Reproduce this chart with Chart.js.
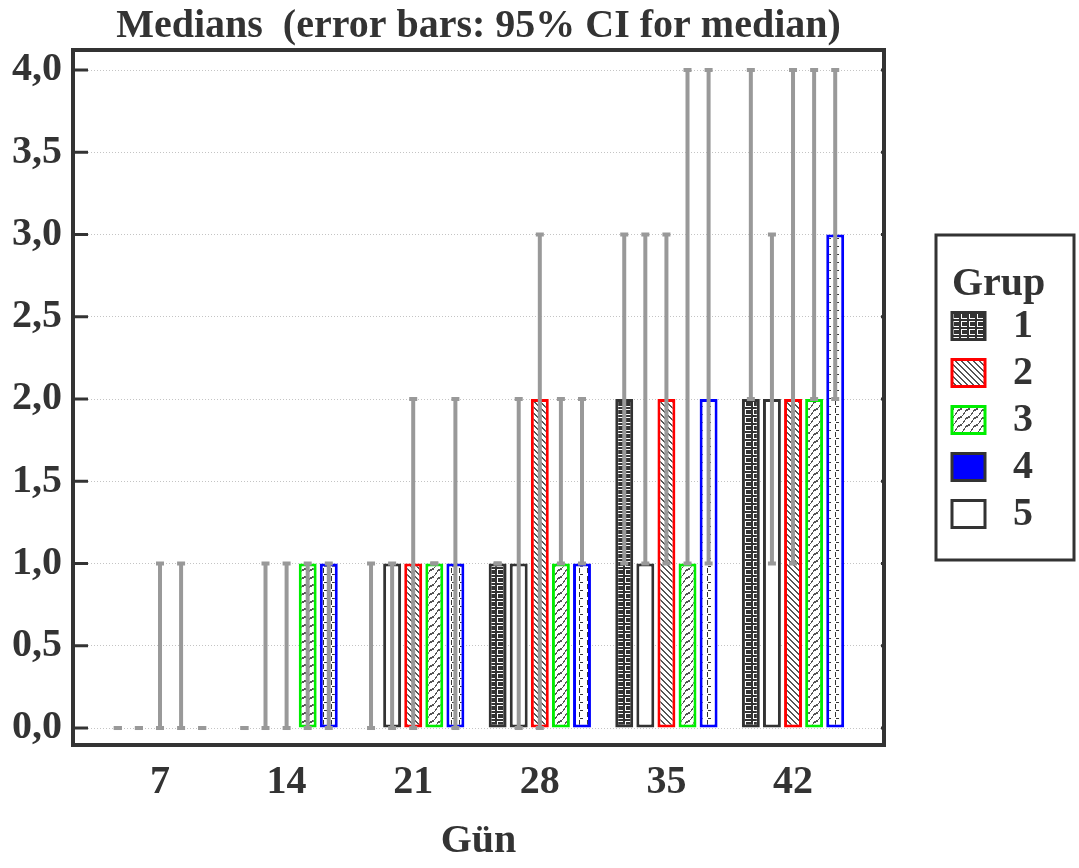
<!DOCTYPE html>
<html>
<head>
<meta charset="utf-8">
<script src="https://cdn.jsdelivr.net/npm/chart.js@4/dist/chart.umd.min.js"></script>
<style>
  html, body { margin: 0; padding: 0; background: #fff; }
  #c { display: block; }
</style>
</head>
<body>
<canvas id="c" width="1079" height="868"></canvas>
<script>
// ---------------- DATA ----------------
const days = [7, 14, 21, 28, 35, 42];
const yTicks = [0, 0.5, 1, 1.5, 2, 2.5, 3, 3.5, 4];
const groupNames = ['1', '2', '3', '4', '5'];
const plotOrder = ['1', '5', '2', '3', '4'];

const median1 = [0, 0, 0, 1, 2, 2];
const ciLow1  = [0, 0, 0, 1, 1, 2];
const ciHigh1 = [0, 0, 1, 1, 3, 4];

const median2 = [0, 0, 1, 2, 2, 2];
const ciLow2  = [0, 0, 0, 0, 1, 1];
const ciHigh2 = [1, 1, 2, 3, 3, 4];

const median3 = [0, 1, 1, 1, 1, 2];
const ciLow3  = [0, 0, 1, 1, 1, 2];
const ciHigh3 = [1, 1, 1, 2, 4, 4];

const median4 = [0, 1, 1, 1, 2, 3];
const ciLow4  = [0, 0, 0, 1, 1, 2];
const ciHigh4 = [0, 1, 2, 2, 4, 4];

const median5 = [0, 0, 1, 1, 1, 2];
const ciLow5  = [0, 0, 0, 0, 1, 1];
const ciHigh5 = [0, 1, 1, 2, 3, 3];

// ---------------- PATTERNS ----------------
function tile(w, h, draw) {
  const c = document.createElement('canvas');
  c.width = w; c.height = h;
  const g = c.getContext('2d');
  draw(g);
  return c.getContext('2d').createPattern(c, 'repeat');
}
const pat1 = tile(8, 8, g => {
  g.fillStyle = '#333'; g.fillRect(0, 0, 8, 8);
  g.fillStyle = '#fff';
  g.fillRect(1, 1, 6, 1); g.fillRect(1, 1, 1, 6); g.fillRect(1, 6, 6, 1);
});
const pat2 = tile(6, 6, g => {
  g.fillStyle = '#fff'; g.fillRect(0, 0, 6, 6);
  g.fillStyle = '#555';
  for (let i = 0; i < 6; i++) { g.fillRect(i, i, 1, 1); g.fillRect((i + 1) % 6, i, 1, 1); }
});
const pat3 = tile(8, 8, g => {
  g.fillStyle = '#fff'; g.fillRect(0, 0, 8, 8);
  g.fillStyle = '#555';
  const off = [0, 1, 1, 0, 0, -1, -1, 0];
  for (let x = 0; x < 8; x++) {
    const y = ((8 - x + off[x]) % 8 + 8) % 8;
    g.fillRect(x, y, 1, 2);
  }
});
const pat4 = tile(8, 8, g => {
  g.fillStyle = '#fff'; g.fillRect(0, 0, 8, 8);
  g.fillStyle = '#333';
  g.fillRect(3, 0, 1, 5); g.fillRect(4, 6, 3, 1);
});

const styles = {
  '1': { fill: pat1, border: '#333333', legendFill: pat1, legendBorder: '#333333' },
  '2': { fill: pat2, border: '#ff0000', legendFill: pat2, legendBorder: '#ff0000' },
  '3': { fill: pat3, border: '#00ee00', legendFill: pat3, legendBorder: '#00ee00' },
  '4': { fill: pat4, border: '#0000ff', legendFill: '#0000ff', legendBorder: '#333333' },
  '5': { fill: '#ffffff', border: '#333333', legendFill: '#ffffff', legendBorder: '#333333' }
};
const series = {
  '1': [median1, ciLow1, ciHigh1],
  '2': [median2, ciLow2, ciHigh2],
  '3': [median3, ciLow3, ciHigh3],
  '4': [median4, ciLow4, ciHigh4],
  '5': [median5, ciLow5, ciHigh5]
};

const FONT = "'Liberation Serif', 'Times New Roman', serif";
const TXT = '#333333';

const datasets = plotOrder.map(name => ({
  label: name,
  data: series[name][0],
  errLow: series[name][1],
  errHigh: series[name][2],
  backgroundColor: styles[name].fill,
  borderColor: styles[name].border,
  borderWidth: 3,
  borderSkipped: false
}));

// ---------------- PLUGINS ----------------
const bgPlugin = {
  id: 'bg',
  beforeDraw(chart) {
    const ctx = chart.ctx;
    ctx.save(); ctx.fillStyle = '#fff';
    ctx.fillRect(0, 0, chart.width, chart.height); ctx.restore();
  }
};

const errorBars = {
  id: 'errorBars',
  afterDatasetsDraw(chart) {
    const ctx = chart.ctx, ys = chart.scales.y;
    ctx.save();
    chart.data.datasets.forEach((ds, i) => {
      const meta = chart.getDatasetMeta(i);
      meta.data.forEach((el, j) => {
        const x = el.x;
        const yl = ys.getPixelForValue(ds.errLow[j]);
        const yh = ys.getPixelForValue(ds.errHigh[j]);
        ctx.strokeStyle = '#999999'; ctx.fillStyle = '#999999';
        if (ds.errHigh[j] > ds.errLow[j]) {
          ctx.lineWidth = 4;
          ctx.beginPath(); ctx.moveTo(x, yl); ctx.lineTo(x, yh); ctx.stroke();
        }
        ctx.fillRect(x - 4, yl - 2, 8, 4);
        ctx.fillRect(x - 4, yh - 2, 8, 4);
      });
    });
    ctx.restore();
  }
};

const framePlugin = {
  id: 'frame',
  afterDraw(chart) {
    const ctx = chart.ctx, a = chart.chartArea, ys = chart.scales.y;
    ctx.save();
    ctx.strokeStyle = '#333'; ctx.lineWidth = 3;
    ys.ticks.forEach(t => {
      const y = ys.getPixelForValue(t.value);
      ctx.beginPath(); ctx.moveTo(a.left, y); ctx.lineTo(a.left + 15, y); ctx.stroke();
      ctx.beginPath(); ctx.moveTo(a.right - 3, y); ctx.lineTo(a.right, y); ctx.stroke();
    });
    ctx.lineWidth = 4;
    ctx.strokeRect(a.left, a.top, a.right - a.left, a.bottom - a.top);
    ctx.restore();
  }
};

const legendPlugin = {
  id: 'grupLegend',
  afterDraw(chart) {
    const ctx = chart.ctx, a = chart.chartArea;
    const fx = a.right + 52, fy = 235, fw = 138, fh = 325;
    ctx.save();
    ctx.strokeStyle = '#333'; ctx.lineWidth = 3;
    ctx.strokeRect(fx, fy, fw, fh);
    ctx.fillStyle = TXT;
    ctx.font = 'bold 40px ' + FONT;
    ctx.textBaseline = 'alphabetic'; ctx.textAlign = 'left';
    ctx.fillText('Grup', fx + 16, 295);
    groupNames.forEach((name, k) => {
      const st = styles[name];
      const cy = 326 + k * 47;
      const sx = fx + 16, sw = 33, sh = 27;
      ctx.fillStyle = st.legendFill;
      ctx.fillRect(sx, cy - sh / 2, sw, sh);
      ctx.strokeStyle = st.legendBorder; ctx.lineWidth = 3;
      ctx.strokeRect(sx, cy - sh / 2, sw, sh);
      ctx.fillStyle = TXT;
      ctx.textBaseline = 'middle';
      ctx.fillText(name, fx + 77, cy + 1);
    });
    ctx.restore();
  }
};

// ---------------- CHART ----------------
new Chart(document.getElementById('c'), {
  type: 'bar',
  data: { labels: days, datasets },
  plugins: [bgPlugin, errorBars, framePlugin, legendPlugin],
  options: {
    responsive: false,
    animation: false,
    devicePixelRatio: 1,
    layout: { padding: { left: 0, right: 195, top: 0, bottom: 0 } },
    datasets: { bar: { categoryPercentage: 0.833, barPercentage: 0.85 } },
    plugins: {
      legend: { display: false },
      tooltip: { enabled: false },
      title: {
        display: true,
        text: 'Medians  (error bars: 95% CI for median)',
        fullSize: false,
        color: TXT,
        font: { family: FONT, size: 40, weight: 'bold', lineHeight: 1 },
        padding: { top: 7, bottom: 3 }
      }
    },
    scales: {
      x: {
        type: 'linear',
        min: 2.19,
        max: 47.03,
        offset: false,
        afterBuildTicks: s => { s.ticks = days.map(v => ({ value: v })); },
        afterFit: s => { s.height = 123; },
        grid: { display: false, drawTicks: false },
        border: { display: false },
        ticks: {
          padding: 18,
          color: TXT,
          font: { family: FONT, size: 40, weight: 'bold', lineHeight: 1 },
          callback: v => String(v)
        },
        title: {
          display: true,
          text: 'Gün',
          color: TXT,
          font: { family: FONT, size: 40, weight: 'bold', lineHeight: 1 },
          padding: { top: 0, bottom: 6 }
        }
      },
      y: {
        min: -0.1033,
        max: 4.1216,
        afterBuildTicks: s => { s.ticks = yTicks.map(v => ({ value: v })); },
        afterFit: s => { s.width = 73; },
        grid: { color: '#c4c4c4', lineWidth: 1, drawTicks: false },
        border: { display: false, dash: [1, 2] },
        ticks: {
          padding: 11,
          color: TXT,
          font: { family: FONT, size: 40, weight: 'bold', lineHeight: 1 },
          callback: v => v.toFixed(1).replace('.', ',')
        }
      }
    }
  }
});
</script>
</body>
</html>
